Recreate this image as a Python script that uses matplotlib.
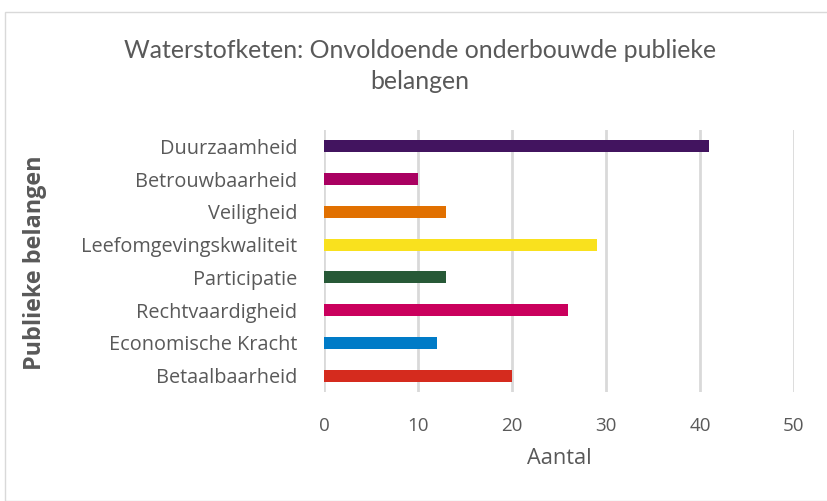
import matplotlib
matplotlib.use("Agg")
import matplotlib.pyplot as plt
from matplotlib.patches import Rectangle

categories = ["Duurzaamheid", "Betrouwbaarheid", "Veiligheid", "Leefomgevingskwaliteit",
              "Participatie", "Rechtvaardigheid", "Economische Kracht", "Betaalbaarheid"]
values = [41, 10, 13, 29, 13, 26, 12, 20]
colors = ["#42145F", "#A90061", "#E17000", "#F9E11E",
          "#275937", "#CA005D", "#007BC7", "#D52B1E"]
xticks = [0, 10, 20, 30, 40, 50]

plt.rcParams['font.family'] = ['Open Sans', 'DejaVu Sans']
txt = "#595959"

fig = plt.figure(figsize=(8.28, 5.01), dpi=100)
fig.patches.append(Rectangle((5 / 828, 0), 1, 1 - 12 / 501, transform=fig.transFigure,
                             fill=False, edgecolor="#D9D9D9", linewidth=1))
ax = fig.add_axes([324 / 828, 1 - 392 / 501, 470 / 828, 262 / 501])

ypos = list(range(len(categories)))[::-1]
ax.barh(ypos, values, height=0.37, color=colors, zorder=3)
ax.set_xlim(0, 50)
ax.set_ylim(-0.5, len(categories) - 0.5)
ax.set_xticks(xticks)
ax.set_yticks(ypos)
ax.set_yticklabels(categories)
ax.grid(axis="x", color="#D9D9D9", linewidth=2, zorder=0)
for s in ax.spines.values():
    s.set_visible(False)
ax.tick_params(length=0, colors=txt, labelsize=14.3)
ax.tick_params(axis="y", pad=19)
ax.tick_params(axis="x", labelsize=13.5, pad=18)

ax.set_xlabel("Aantal", color=txt, fontsize=15.7, labelpad=9)
fig.text(35 / 828, 1 - 263 / 501, "Publieke belangen", rotation=90, ha="center", va="center",
         color=txt, fontsize=16.8, fontweight="bold")
fig.text(0.507, 1 - 66 / 501, "Waterstofketen: Onvoldoende onderbouwde publieke\nbelangen",
         ha="center", va="center", fontsize=17.9, color=txt, linespacing=1.4,
         family=['Lato', 'DejaVu Sans'])

fig.savefig("out.png", dpi=100)
